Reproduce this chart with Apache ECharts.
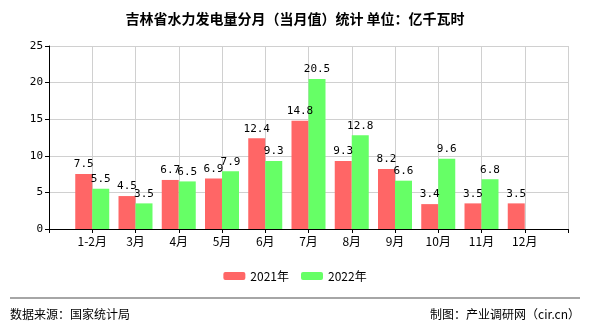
<!DOCTYPE html>
<html><head><meta charset="utf-8">
<script src="https://cdn.jsdelivr.net/npm/echarts@6/dist/echarts.min.js"></script>
<style>html,body{margin:0;padding:0;background:#fff}#c{width:590px;height:330px}</style>
</head><body><div id="c"></div>
<script>
var categories = ['', '1-2月', '3月', '4月', '5月', '6月', '7月', '8月', '9月', '10月', '11月', '12月', ''];
var s2021 = ['-', 7.5, 4.5, 6.7, 6.9, 12.4, 14.8, 9.3, 8.2, 3.4, 3.5, 3.5, '-'];
var s2022 = ['-', 5.5, 3.5, 6.5, 7.9, 9.3, 20.5, 12.8, 6.6, 9.6, 6.8, '-', '-'];
var yTicks = {min: 0, max: 25, interval: 5};
var chart = echarts.init(document.getElementById('c'));
var mono = 'DejaVu Sans Mono';
var cjk = '"Noto Sans CJK SC", sans-serif';
function lbl() {
  return {show: true, position: 'top', color: '#000', fontFamily: mono, fontSize: 11, distance: 4};
}
chart.setOption({
  animation: false,
  title: {text: '吉林省水力发电量分月（当月值）统计 单位：亿千瓦时', left: 'center', top: 7,
    textStyle: {fontSize: 14, fontWeight: 'bold', color: '#000', fontFamily: cjk}},
  legend: {bottom: 43, left: 'center', itemWidth: 22, itemHeight: 8, itemGap: 12,
    textStyle: {fontSize: 12, color: '#000', fontFamily: cjk}},
  grid: {left: 49, right: 22, top: 46, bottom: 101},
  xAxis: {type: 'category', data: categories, boundaryGap: false,
    axisLine: {lineStyle: {color: '#000'}}, axisTick: {lineStyle: {color: '#000'}, length: 4},
    axisLabel: {color: '#000', fontSize: 12, fontFamily: cjk, margin: 6},
    splitLine: {show: true, lineStyle: {color: '#d0d0d0'}}},
  yAxis: {type: 'value', min: yTicks.min, max: yTicks.max, interval: yTicks.interval,
    axisLine: {show: true, lineStyle: {color: '#000'}}, axisTick: {show: true, length: 4, lineStyle: {color: '#000'}},
    axisLabel: {color: '#000', fontSize: 11, fontFamily: mono, margin: 6},
    splitLine: {lineStyle: {color: '#d0d0d0'}}},
  series: [
    {name: '2021年', type: 'bar', data: s2021, barWidth: 17, barGap: '0%', itemStyle: {color: '#ff6666'}, label: lbl()},
    {name: '2022年', type: 'bar', data: s2022, barWidth: 17, barGap: '0%', itemStyle: {color: '#66ff66'}, label: lbl()}
  ],
  graphic: [
    {type: 'line', shape: {x1: 10, y1: 298, x2: 580, y2: 298}, style: {stroke: '#888', lineWidth: 1.5}},
    {type: 'text', left: 10, top: 308, style: {text: '数据来源：国家统计局', fontSize: 12, fill: '#000', fontFamily: cjk}},
    {type: 'text', right: 10, top: 308, style: {text: '制图：产业调研网（cir.cn）', fontSize: 12, fill: '#000', fontFamily: cjk}}
  ]
});
</script></body></html>
